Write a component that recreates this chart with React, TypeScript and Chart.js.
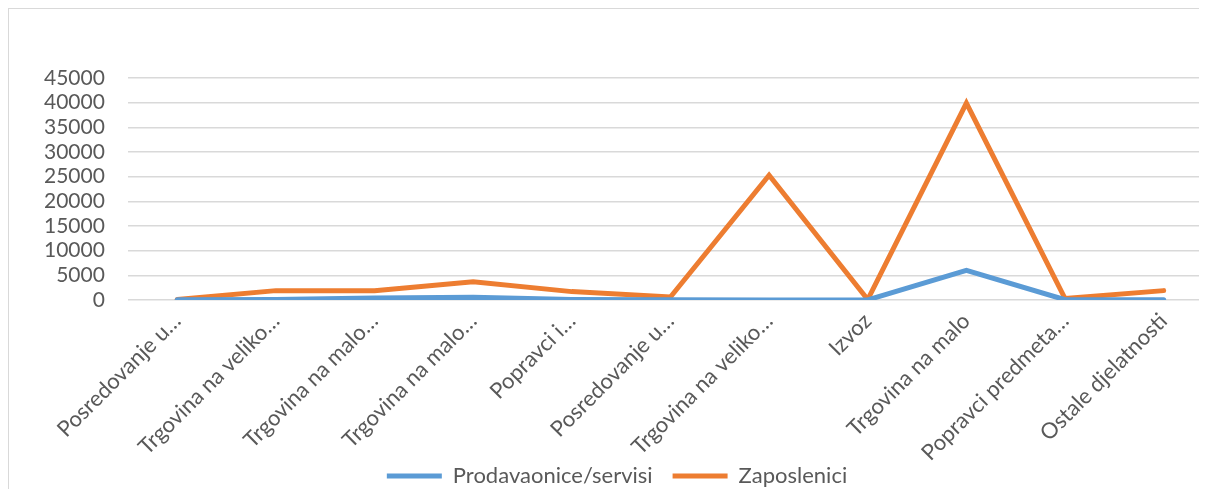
import React, { useEffect, useRef } from "react";
import { Chart, registerables } from "chart.js";

Chart.register(...registerables);

const categories = [
  "Posredovanje u…",
  "Trgovina na veliko…",
  "Trgovina na malo…",
  "Trgovina na malo…",
  "Popravci i…",
  "Posredovanje u…",
  "Trgovina na veliko…",
  "Izvoz",
  "Trgovina na malo",
  "Popravci predmeta…",
  "Ostale djelatnosti",
];
const prodavaonice = [50, 100, 400, 550, 100, 30, 20, 20, 6000, 50, 50];
const zaposlenici = [100, 1900, 1900, 3700, 1700, 600, 25300, 100, 39900, 300, 1900];
const yTicks = [0, 5000, 10000, 15000, 20000, 25000, 30000, 35000, 40000, 45000];

const FONT = "Lato, 'Liberation Sans', sans-serif";

const unclipLabels = {
  id: "unclipLabels",
  afterLayout(chart: any) {
    const x = chart.scales.x;
    if (x) x.bottom = chart.height;
  },
};

export default function App() {
  const ref = useRef<HTMLCanvasElement | null>(null);
  useEffect(() => {
    if (!ref.current) return;
    const chart = new Chart(ref.current, {
      type: "line",
      data: {
        labels: categories,
        datasets: [
          {
            label: "Prodavaonice/servisi",
            data: prodavaonice,
            borderColor: "#5B9BD5",
            backgroundColor: "#5B9BD5",
            borderWidth: 5,
            pointRadius: 0,
            tension: 0,
            borderCapStyle: "round",
          },
          {
            label: "Zaposlenici",
            data: zaposlenici,
            borderColor: "#ED7D31",
            backgroundColor: "#ED7D31",
            borderWidth: 5,
            pointRadius: 0,
            tension: 0,
            borderCapStyle: "round",
          },
        ],
      },
      plugins: [unclipLabels],
      options: {
        animation: false,
        responsive: false,
        maintainAspectRatio: false,
        layout: { padding: { top: 69, left: 12, right: 0, bottom: 0 } },
        plugins: {
          legend: {
            position: "bottom",
            labels: {
              font: { family: FONT, size: 22 },
              color: "#595959",
              boxWidth: 55,
              boxHeight: 5,
              padding: 20,
              generateLabels: (c: any) =>
                c.data.datasets.map((ds: any, i: number) => ({
                  text: ds.label,
                  fillStyle: ds.borderColor,
                  strokeStyle: ds.borderColor,
                  lineWidth: 0,
                  datasetIndex: i,
                  fontColor: "#595959",
                })),
            },
          },
          tooltip: { enabled: false },
        },
        scales: {
          x: {
            offset: true,
            grid: { display: false, offset: true },
            border: { display: false },
            afterFit: (axis: any) => {
              axis.height = 145;
            },
            ticks: {
              font: { family: FONT, size: 22 },
              color: "#595959",
              maxRotation: 45,
              minRotation: 45,
              autoSkip: false,
              padding: 0,
            },
          },
          y: {
            min: 0,
            max: 45000,
            afterBuildTicks: (axis: any) => {
              axis.ticks = yTicks.map((v) => ({ value: v }));
            },
            grid: { color: "#D9D9D9", lineWidth: 1.5, drawTicks: false },
            border: { display: false },
            ticks: {
              font: { family: FONT, size: 21 },
              color: "#595959",
              padding: 23,
              autoSkip: false,
              callback: (v: any) => String(v),
            },
          },
        },
      },
    });
    return () => chart.destroy();
  }, []);
  return (
    <div
      style={{
        width: 1199,
        height: 481,
        borderLeft: "1px solid #D9D9D9",
        borderTop: "1px solid #D9D9D9",
        overflow: "hidden",
        boxSizing: "border-box",
      }}
    >
      <canvas ref={ref} width={1204} height={488} style={{ display: "block" }} />
    </div>
  );
}
